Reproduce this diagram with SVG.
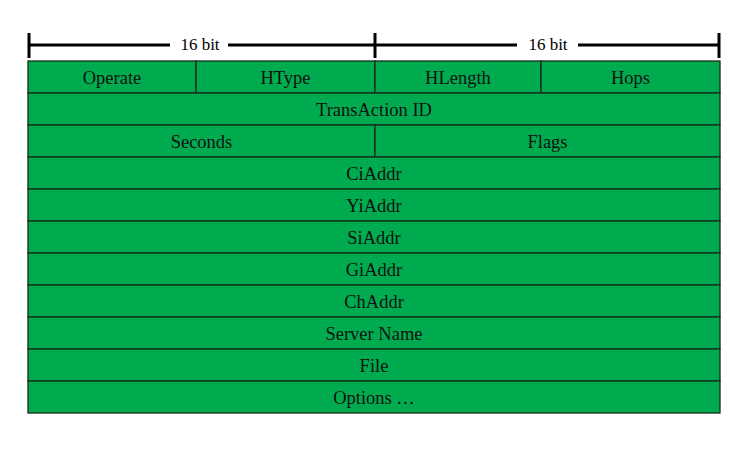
<svg xmlns="http://www.w3.org/2000/svg" width="750" height="450" viewBox="0 0 750 450">
  <style>
    .cell { fill: #00ab50; stroke: #1a2a1a; stroke-width: 1.3; }
    .lbl { font-family: "Liberation Serif", "Times New Roman", serif; font-size: 18.5px; fill: #111; text-anchor: middle; }
    .dim { font-family: "Liberation Serif", "Times New Roman", serif; font-size: 17px; fill: #000; text-anchor: middle; }
    .ruler { stroke: #000; stroke-width: 3; fill: none; }
  </style>
  <rect width="750" height="450" fill="#ffffff"/>

  <!-- bit-width ruler -->
  <g id="ruler">
    <line class="ruler" x1="29" y1="33" x2="29" y2="58"/>
    <line class="ruler" x1="375" y1="33" x2="375" y2="58"/>
    <line class="ruler" x1="719" y1="33" x2="719" y2="58"/>
    <line class="ruler" x1="29" y1="45" x2="170" y2="45"/>
    <line class="ruler" x1="228" y1="45" x2="375" y2="45"/>
    <line class="ruler" x1="375" y1="45" x2="517" y2="45"/>
    <line class="ruler" x1="578" y1="45" x2="719" y2="45"/>
    <text class="dim" x="200" y="50">16 bit</text>
    <text class="dim" x="548" y="50">16 bit</text>
  </g>

  <!-- header fields -->
  <g id="operate"><rect class="cell" x="28" y="61" width="168" height="32"/><text class="lbl" x="112" y="83.5">Operate</text></g>
  <g id="htype"><rect class="cell" x="196" y="61" width="179" height="32"/><text class="lbl" x="285.5" y="83.5">HType</text></g>
  <g id="hlength"><rect class="cell" x="375" y="61" width="166" height="32"/><text class="lbl" x="458" y="83.5">HLength</text></g>
  <g id="hops"><rect class="cell" x="541" y="61" width="179" height="32"/><text class="lbl" x="630.5" y="83.5">Hops</text></g>
  <g id="transaction-id"><rect class="cell" x="28" y="93" width="692" height="32"/><text class="lbl" x="374" y="115.5">TransAction ID</text></g>
  <g id="seconds"><rect class="cell" x="28" y="125" width="347" height="32"/><text class="lbl" x="201.5" y="147.5">Seconds</text></g>
  <g id="flags"><rect class="cell" x="375" y="125" width="345" height="32"/><text class="lbl" x="547.5" y="147.5">Flags</text></g>
  <g id="ciaddr"><rect class="cell" x="28" y="157" width="692" height="32"/><text class="lbl" x="374" y="179.5">CiAddr</text></g>
  <g id="yiaddr"><rect class="cell" x="28" y="189" width="692" height="32"/><text class="lbl" x="374" y="211.5">YiAddr</text></g>
  <g id="siaddr"><rect class="cell" x="28" y="221" width="692" height="32"/><text class="lbl" x="374" y="243.5">SiAddr</text></g>
  <g id="giaddr"><rect class="cell" x="28" y="253" width="692" height="32"/><text class="lbl" x="374" y="275.5">GiAddr</text></g>
  <g id="chaddr"><rect class="cell" x="28" y="285" width="692" height="32"/><text class="lbl" x="374" y="307.5">ChAddr</text></g>
  <g id="server-name"><rect class="cell" x="28" y="317" width="692" height="32"/><text class="lbl" x="374" y="339.5">Server Name</text></g>
  <g id="file"><rect class="cell" x="28" y="349" width="692" height="32"/><text class="lbl" x="374" y="371.5">File</text></g>
  <g id="options"><rect class="cell" x="28" y="381" width="692" height="32"/><text class="lbl" x="374" y="403.5">Options …</text></g>

  <g id="connectors"></g>
</svg>
